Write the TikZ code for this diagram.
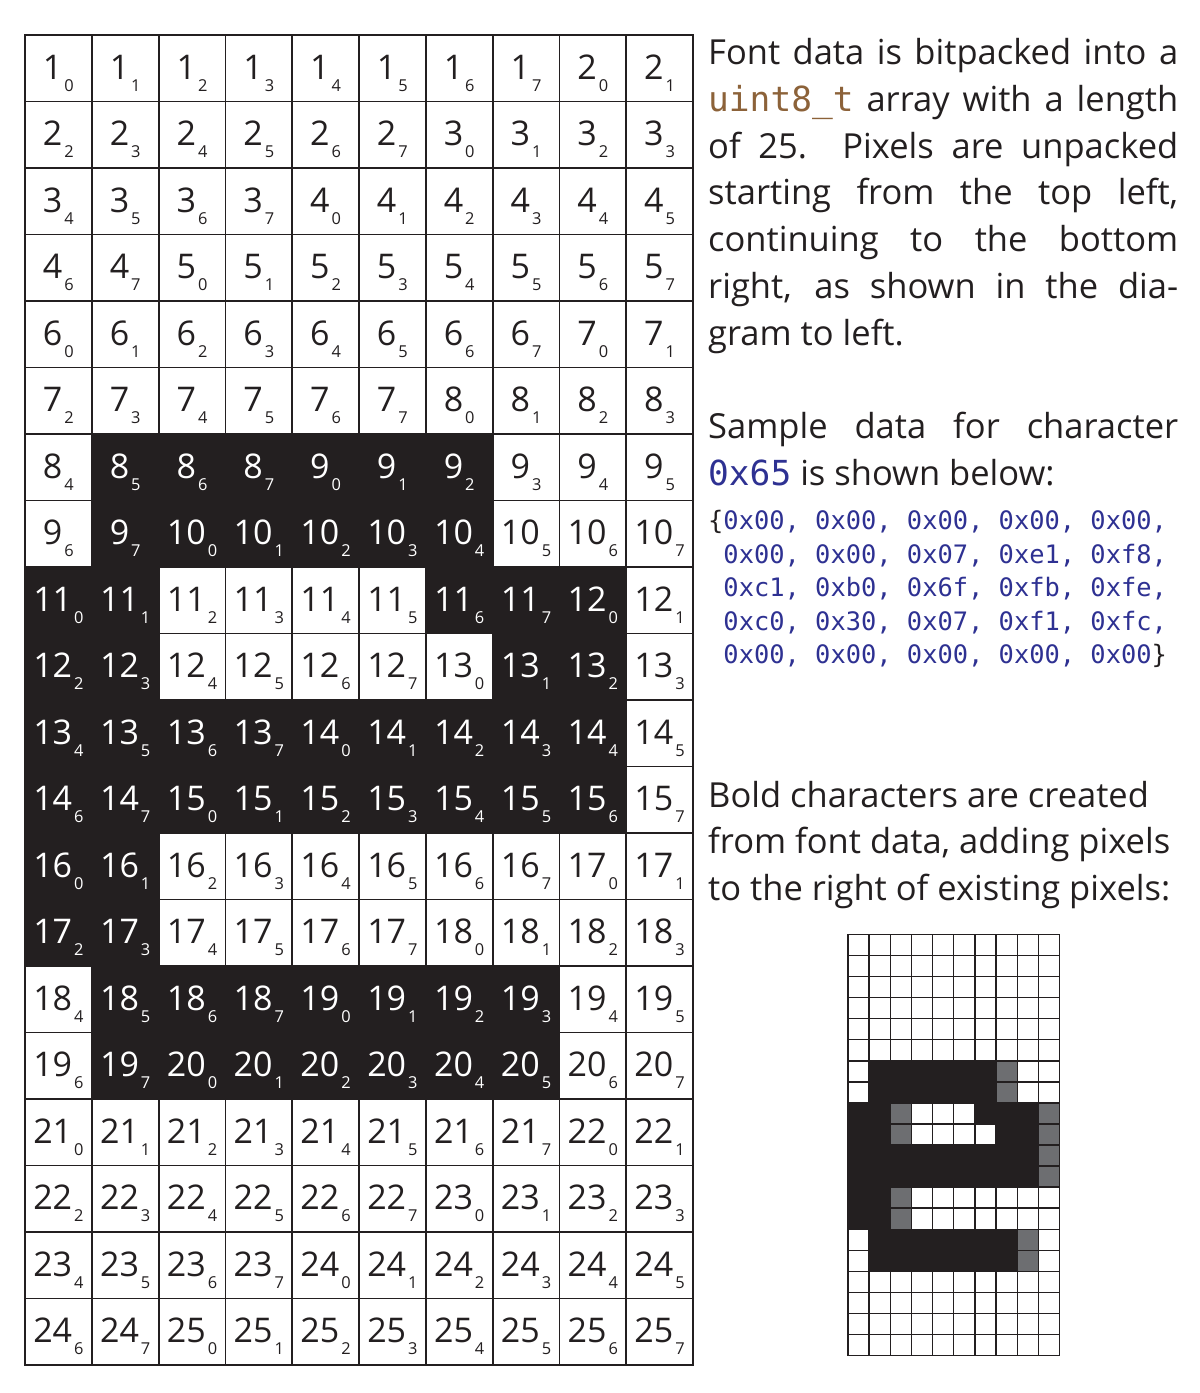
\documentclass[tikz,border=0pt]{standalone}
\usepackage{fontspec}
\setmainfont{Open Sans}
\setmonofont{DejaVu Sans Mono}
\definecolor{ink}{RGB}{35,31,32}
\definecolor{boldgray}{RGB}{109,110,113}
\definecolor{typebrown}{RGB}{140,98,57}
\definecolor{hexblue}{RGB}{46,49,146}
\newcommand{\bitlabel}[2]{{\fontsize{34}{34}\selectfont #1}\kern2pt\raisebox{-12pt}{\fontsize{16.4}{16.4}\selectfont #2}}
\newcommand{\jline}[1]{\makebox[470pt][s]{#1}}
\begin{document}
\begin{tikzpicture}[x=1pt, y=-1pt
	,cell/.style={rectangle, draw=ink, line width=1.8pt, minimum width=66.8pt, minimum height=66.5pt, inner sep=0pt, text height=30pt, text depth=8.5pt}
	,pix/.style={rectangle, draw=ink, line width=1.4pt, minimum width=21.15pt, minimum height=21.05pt, inner sep=0pt}
	,txt/.style={anchor=base west, inner sep=0pt, text=ink, font=\fontsize{34.5}{34.5}\selectfont}
	,code/.style={anchor=base west, inner sep=0pt, text=hexblue, font=\fontsize{25.4}{25.4}\selectfont\ttfamily}
]
\useasboundingbox (0,0) rectangle (1200,1393);
% 0 = empty, 1 = glyph pixel, 2 = pixel added for bold
\foreach[count=\row from 0] \bits in {%
	{0,0,0,0,0,0,0,0,0,0}%
	,{0,0,0,0,0,0,0,0,0,0}%
	,{0,0,0,0,0,0,0,0,0,0}%
	,{0,0,0,0,0,0,0,0,0,0}%
	,{0,0,0,0,0,0,0,0,0,0}%
	,{0,0,0,0,0,0,0,0,0,0}%
	,{0,1,1,1,1,1,1,2,0,0}%
	,{0,1,1,1,1,1,1,2,0,0}%
	,{1,1,2,0,0,0,1,1,1,2}%
	,{1,1,2,0,0,0,0,1,1,2}%
	,{1,1,1,1,1,1,1,1,1,2}%
	,{1,1,1,1,1,1,1,1,1,2}%
	,{1,1,2,0,0,0,0,0,0,0}%
	,{1,1,2,0,0,0,0,0,0,0}%
	,{0,1,1,1,1,1,1,1,2,0}%
	,{0,1,1,1,1,1,1,1,2,0}%
	,{0,0,0,0,0,0,0,0,0,0}%
	,{0,0,0,0,0,0,0,0,0,0}%
	,{0,0,0,0,0,0,0,0,0,0}%
	,{0,0,0,0,0,0,0,0,0,0}%
}{
	\foreach[count=\col from 0] \v in \bits {
		\pgfmathtruncatemacro\k{\row*10+\col}
		\pgfmathtruncatemacro\byte{int(\k/8)+1}
		\pgfmathtruncatemacro\bit{mod(\k,8)}
		\ifcase\v \def\bigfill{white}\def\bigtext{ink}\def\smallfill{white}
		\or \def\bigfill{ink}\def\bigtext{white}\def\smallfill{ink}
		\or \def\bigfill{white}\def\bigtext{ink}\def\smallfill{boldgray}\fi
		\node[cell, fill=\bigfill, text=\bigtext] (c\k) at ({25+66.8*(\col+0.5)},{35+66.5*(\row+0.5)}) {\bitlabel{\byte}{\bit}};
		\node[pix, fill=\smallfill] (b\k) at ({848+21.15*(\col+0.5)},{934.5+21.05*(\row+0.5)}) {};
	}
}
\node[txt] (t1) at (708,64.5) {\jline{Font data is bitpacked into a}};
\node[txt] (t2) at (708,111.3) {\jline{\textcolor{typebrown}{\texttt{uint8\_t}} array with a length}};
\node[txt] (t3) at (708,158.1) {\jline{of 25.\ \ Pixels are unpacked}};
\node[txt] (t4) at (708,204.9) {\jline{starting from the top left,}};
\node[txt] (t5) at (708,251.7) {\jline{continuing to the bottom}};
\node[txt] (t6) at (708,298.5) {\jline{right, as shown in the dia-}};
\node[txt] (t7) at (708,345.3) {gram to left.};
\node[txt] (s1) at (708,438.3) {\jline{Sample data for character}};
\node[txt] (s2) at (708,485) {\textcolor{hexblue}{\texttt{0x65}} is shown below:};
\node[code] (d1) at (708,529.3) {\textcolor{ink}{\{}0x00, 0x00, 0x00, 0x00, 0x00,};
\node[code] (d2) at (708,563) {\phantom{\{}0x00, 0x00, 0x07, 0xe1, 0xf8,};
\node[code] (d3) at (708,596.5) {\phantom{\{}0xc1, 0xb0, 0x6f, 0xfb, 0xfe,};
\node[code] (d4) at (708,630) {\phantom{\{}0xc0, 0x30, 0x07, 0xf1, 0xfc,};
\node[code] (d5) at (708,663.5) {\phantom{\{}0x00, 0x00, 0x00, 0x00, 0x00\textcolor{ink}{\}}};
\node[txt] (u1) at (708,807.3) {Bold characters are created};
\node[txt] (u2) at (708,853.7) {from font data, adding pixels};
\node[txt] (u3) at (708,900.1) {to the right of existing pixels:};
\end{tikzpicture}
\end{document}
